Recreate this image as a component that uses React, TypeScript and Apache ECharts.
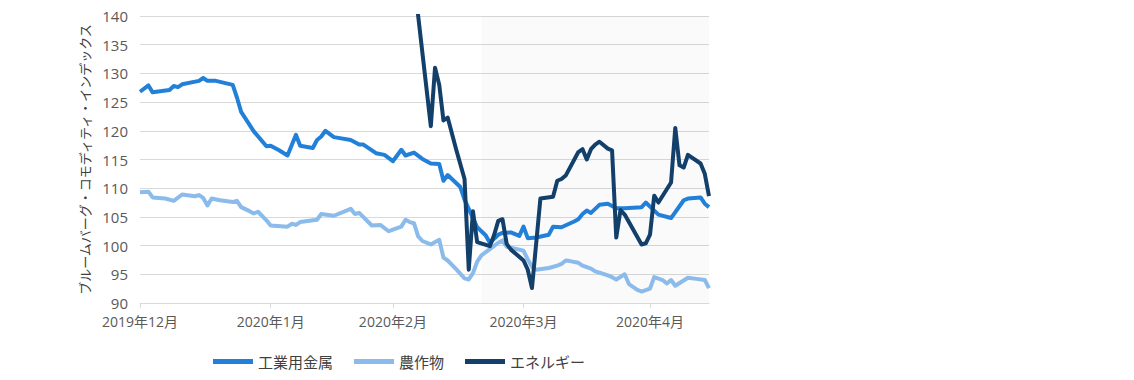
import React, { useEffect, useRef } from "react";
import * as echarts from "echarts";

// trading-day index positions along the x axis
const categories: number[] = Array.from({ length: 136 }, (_, i) => i);
const tickIdx = [0, 31, 60, 91, 121];
const tickLabels = ["2019年12月", "2020年1月", "2020年2月", "2020年3月", "2020年4月"];

const seriesNames = ["工業用金属", "農作物", "エネルギー"];

// [day index, index value]
const metals: [number, number][] = [
  [0, 126.8], [2, 127.9], [3, 126.7], [7, 127.1], [8, 127.8], [9, 127.6], [10, 128.1],
  [14, 128.7], [15, 129.2], [16, 128.7], [18, 128.7], [22, 128.0], [23, 125.8], [24, 123.3],
  [27, 119.9], [30, 117.3], [31, 117.4], [33, 116.6], [35, 115.7], [37, 119.3], [38, 117.4],
  [41, 117.0], [42, 118.4], [43, 119.0], [44, 120.0], [46, 118.9], [50, 118.4], [52, 117.6],
  [53, 117.6], [56, 116.1], [58, 115.8], [60, 114.7], [62, 116.7], [63, 115.7], [65, 116.2],
  [67, 115.1], [69, 114.3], [71, 114.2], [72, 111.3], [73, 112.3], [76, 110.2], [77, 108.0],
  [78, 106.4], [80, 103.2], [82, 101.8], [83, 100.5], [85, 101.9], [86, 102.2], [88, 102.3],
  [90, 101.7], [91, 103.3], [92, 101.3], [94, 101.4], [97, 101.9], [98, 103.3], [100, 103.2],
  [103, 104.2], [104, 104.6], [105, 105.5], [106, 106.1], [107, 105.7], [109, 107.1],
  [111, 107.3], [113, 106.5], [115, 106.5], [119, 106.7], [120, 107.5], [123, 105.4],
  [126, 104.8], [129, 107.9], [130, 108.2], [133, 108.4], [134, 107.3], [135, 106.7],
];

const agri: [number, number][] = [
  [0, 109.3], [2, 109.4], [3, 108.4], [6, 108.2], [8, 107.8], [10, 108.9], [13, 108.6],
  [14, 108.8], [15, 108.3], [16, 107.0], [17, 108.2], [19, 107.9], [22, 107.6], [23, 107.8],
  [24, 106.7], [26, 106.0], [27, 105.6], [28, 105.9], [30, 104.4], [31, 103.5], [35, 103.3],
  [36, 103.8], [37, 103.6], [38, 104.1], [42, 104.5], [43, 105.5], [46, 105.2], [50, 106.4],
  [51, 105.5], [52, 105.7], [55, 103.5], [57, 103.6], [59, 102.5], [60, 102.8], [62, 103.3],
  [63, 104.5], [64, 104.1], [65, 103.9], [66, 101.6], [67, 100.8], [69, 100.2], [71, 101.0],
  [72, 97.9], [73, 97.4], [75, 95.9], [77, 94.3], [78, 94.1], [79, 95.2], [80, 97.2],
  [81, 98.3], [83, 99.4], [85, 100.5], [86, 100.9], [87, 99.8], [90, 99.3], [91, 99.1],
  [92, 97.6], [93, 96.3], [94, 95.8], [97, 96.1], [99, 96.5], [100, 96.8], [101, 97.4],
  [102, 97.3], [104, 97.0], [105, 96.5], [107, 96.0], [108, 95.5], [109, 95.3], [111, 94.8],
  [112, 94.5], [113, 94.1], [115, 95.0], [116, 93.3], [118, 92.3], [119, 92.0], [121, 92.5],
  [122, 94.5], [124, 94.0], [125, 93.4], [126, 94.0], [127, 93.0], [130, 94.4], [132, 94.2],
  [134, 94.0], [135, 92.6],
];

const energy: [number, number][] = [
  [65, 146.0], [66, 140.0], [69, 120.8], [70, 131.0], [71, 128.0], [72, 121.8], [73, 122.3],
  [75, 116.8], [77, 111.6], [78, 95.8], [79, 106.0], [80, 100.6], [83, 99.9], [84, 101.8],
  [85, 104.3], [86, 104.6], [87, 100.3], [88, 99.3], [91, 97.4], [92, 95.8], [93, 92.6],
  [95, 108.2], [98, 108.5], [99, 111.3], [100, 111.6], [101, 112.2], [104, 116.3],
  [105, 116.8], [106, 115.0], [107, 116.8], [108, 117.6], [109, 118.1], [111, 116.9],
  [112, 116.6], [113, 101.4], [114, 106.2], [115, 105.4], [119, 100.2], [120, 100.4],
  [121, 101.9], [122, 108.7], [123, 107.5], [126, 111.0], [127, 120.5], [128, 114.0],
  [129, 113.6], [130, 115.8], [133, 114.3], [134, 112.5], [135, 108.6],
];

const shadeFrom = 81;
const shadeTo = 135;

const colors = ["#2280d8", "#8abbea", "#133f6b"];
const FONT = "'Open Sans', 'Noto Sans CJK JP', sans-serif";

export default function App() {
  const ref = useRef<HTMLDivElement>(null);
  useEffect(() => {
    document.body.style.margin = "0";
    if (!ref.current) return;
    const chart = echarts.init(ref.current, null, { renderer: "svg" });
    const isTick = (i: number) => tickIdx.indexOf(i) >= 0;
    chart.setOption({
      animation: false,
      textStyle: { fontFamily: FONT },
      grid: { left: 140, right: 425, top: 16, bottom: 77 },
      legend: {
        data: seriesNames,
        left: 208,
        top: 349,
        icon: "rect",
        itemWidth: 40,
        itemHeight: 5,
        itemGap: 21,
        textStyle: { fontSize: 15, color: "#404040", fontFamily: FONT },
      },
      xAxis: {
        type: "category",
        data: categories,
        boundaryGap: false,
        axisLine: { lineStyle: { color: "#d9d9d9" } },
        axisTick: { show: true, interval: (i: number) => isTick(i), length: 5, lineStyle: { color: "#d9d9d9" } },
        axisLabel: {
          interval: (i: number) => isTick(i),
          formatter: (_v: string, i: number) => {
            const k = tickIdx.indexOf(i);
            return k >= 0 ? tickLabels[k] : "";
          },
          color: "#595959",
          fontSize: 14,
          margin: 11,
        },
        splitLine: { show: false },
      },
      yAxis: {
        type: "value",
        min: 90,
        max: 140,
        interval: 5,
        name: "ブルームバーグ・コモディティ・インデックス",
        nameLocation: "middle",
        nameRotate: 90,
        nameGap: 45,
        nameTextStyle: { fontSize: 13, color: "#404040" },
        axisLine: { show: false },
        axisTick: { show: false },
        axisLabel: { color: "#595959", fontSize: 15, margin: 12 },
        splitLine: { lineStyle: { color: "#d9d9d9" } },
      },
      series: [
        {
          name: seriesNames[0],
          type: "line",
          data: metals,
          symbol: "none",
          color: colors[0],
          lineStyle: { width: 4, color: colors[0], join: "round" },
          markArea: {
            silent: true,
            itemStyle: { color: "rgba(0,0,0,0.02)" },
            data: [[{ xAxis: shadeFrom }, { xAxis: shadeTo }]],
          },
        },
        {
          name: seriesNames[1],
          type: "line",
          data: agri,
          symbol: "none",
          color: colors[1],
          lineStyle: { width: 4, color: colors[1], join: "round" },
        },
        {
          name: seriesNames[2],
          type: "line",
          data: energy,
          symbol: "none",
          color: colors[2],
          lineStyle: { width: 4, color: colors[2], join: "round" },
        },
      ],
    });
    return () => chart.dispose();
  }, []);
  return <div ref={ref} style={{ width: 1134, height: 380 }} />;
}
